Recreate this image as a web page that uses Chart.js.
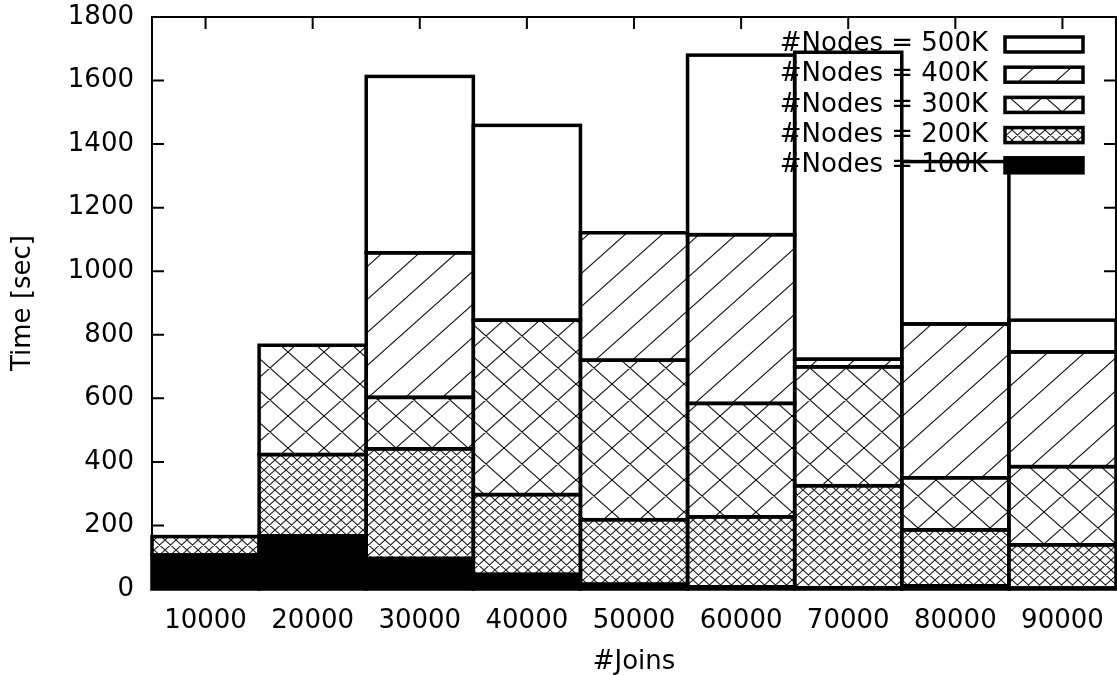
<!DOCTYPE html>
<html>
<head>
<meta charset="utf-8">
<script src="https://cdn.jsdelivr.net/npm/chart.js@4/dist/chart.umd.min.js"></script>
<style>
  body { margin: 0; background: #fff; }
  canvas { display: block; }
</style>
</head>
<body>
<canvas id="joinsChart" width="1117" height="675"></canvas>
<script>
// values (segment heights, sec)
const categories = ["10000", "20000", "30000", "40000", "50000", "60000", "70000", "80000", "90000"];
const nodes100K = [107, 167, 96, 46, 15, 7, 4, 10, 3];
const nodes200K = [58, 256, 345, 251, 203, 220, 321, 176, 136];
const nodes300K = [0, 344, 162, 549, 502, 357, 374, 164, 246];
const nodes400K = [0, 0, 455, 0, 401, 531, 24, 484, 361];
const nodes500K = [0, 0, 555, 613, 0, 565, 966, 511, 100];
const seriesLabels = ["#Nodes = 100K", "#Nodes = 200K", "#Nodes = 300K", "#Nodes = 400K", "#Nodes = 500K"];
const yTicks = [0, 200, 400, 600, 800, 1000, 1200, 1400, 1600, 1800];

const canvas = document.getElementById("joinsChart");
const ctx = canvas.getContext("2d");
const font = { family: "DejaVu Sans", size: 26 };

// gnuplot-like fill patterns
function makePattern(w, h, dirs, color) {
  const c = document.createElement("canvas");
  c.width = w;
  c.height = h;
  const g = c.getContext("2d");
  g.fillStyle = "#fff";
  g.fillRect(0, 0, w, h);
  g.strokeStyle = color;
  g.lineWidth = 1.1;
  g.beginPath();
  for (const ox of [-w, 0, w]) {
    for (const oy of [-h, 0, h]) {
      if (dirs.includes("/")) { g.moveTo(ox, oy + h); g.lineTo(ox + w, oy); }
      if (dirs.includes("\\")) { g.moveTo(ox, oy); g.lineTo(ox + w, oy + h); }
    }
  }
  g.stroke();
  return ctx.createPattern(c, "repeat");
}

const fills = [
  "#000",
  makePattern(11, 10, "/\\", "#222"),
  makePattern(36, 32, "/\\", "#111"),
  makePattern(37, 33, "/", "#111"),
  "#fff",
];
const seriesData = [nodes100K, nodes200K, nodes300K, nodes400K, nodes500K];

// frame + inward ticks on all four sides, behind the bars
const frameTicks = {
  id: "frameTicks",
  beforeDatasetsDraw(chart) {
    const { ctx, chartArea: a, scales } = chart;
    ctx.save();
    ctx.strokeStyle = "#000";
    ctx.lineWidth = 2;
    ctx.strokeRect(a.left, a.top, a.right - a.left, a.bottom - a.top);
    ctx.beginPath();
    yTicks.forEach((v) => {
      const y = scales.y.getPixelForValue(v);
      ctx.moveTo(a.left, y); ctx.lineTo(a.left + 12, y);
      ctx.moveTo(a.right, y); ctx.lineTo(a.right - 12, y);
    });
    categories.forEach((c, i) => {
      const x = scales.x.getPixelForTick(i);
      ctx.moveTo(x, a.top); ctx.lineTo(x, a.top + 12);
      ctx.moveTo(x, a.bottom); ctx.lineTo(x, a.bottom - 12);
    });
    ctx.stroke();
    ctx.restore();
  },
};

// key in the top right, then the thick box outlines
const keyAndOutlines = {
  id: "keyAndOutlines",
  afterDatasetsDraw(chart) {
    const { ctx } = chart;
    ctx.save();
    ctx.font = `${font.size}px "${font.family}"`;
    ctx.fillStyle = "#000";
    ctx.textAlign = "right";
    ctx.textBaseline = "middle";
    for (let k = 0; k < 5; k++) {
      const idx = 4 - k;
      const y = 44.5 + k * 30.2;
      ctx.fillText(seriesLabels[idx], 988, y);
      ctx.fillStyle = fills[idx];
      ctx.fillRect(1005, y - 7.5, 78, 15);
      ctx.fillStyle = "#000";
      ctx.lineWidth = 3.5;
      ctx.strokeRect(1005, y - 7.5, 78, 15);
    }

    ctx.strokeStyle = "#000";
    ctx.lineWidth = 3.5;
    chart.data.datasets.forEach((ds, i) => {
      chart.getDatasetMeta(i).data.forEach((el) => {
        const { x, y, base, width } = el.getProps(["x", "y", "base", "width"], true);
        if (Math.abs(base - y) < 0.5) return;
        ctx.strokeRect(x - width / 2, Math.min(y, base), width, Math.abs(base - y));
      });
    });
    ctx.restore();
  },
};

new Chart(ctx, {
  type: "bar",
  data: {
    labels: categories,
    datasets: seriesData.map((d, i) => ({
      label: seriesLabels[i],
      data: d,
      backgroundColor: fills[i],
      borderWidth: 0,
      barPercentage: 1,
      categoryPercentage: 1,
    })),
  },
  options: {
    responsive: false,
    animation: false,
    layout: { padding: { top: 17, right: 1, left: 0, bottom: 0 } },
    scales: {
      x: {
        stacked: true,
        grid: { display: false, drawTicks: false },
        border: { display: false },
        ticks: { color: "#000", font: font, padding: 17, autoSkip: false, maxRotation: 0 },
        title: { display: true, text: "#Joins", color: "#000", font: font, padding: { top: 0, bottom: -3 } },
        afterFit: (s) => { s.height = 86; s.paddingLeft = 0; s.paddingRight = 0; },
      },
      y: {
        stacked: true,
        min: 0,
        max: 1800,
        grid: { display: false, drawTicks: false },
        border: { display: false },
        ticks: { stepSize: 200, color: "#000", font: font, padding: 18, callback: (v) => String(v) },
        title: { display: true, text: "Time [sec]", color: "#000", font: font, padding: { top: 8, bottom: 0 } },
        afterFit: (s) => { s.width = 152; s.paddingTop = 0; s.paddingBottom = 0; },
      },
    },
    plugins: { legend: { display: false }, tooltip: { enabled: false } },
  },
  plugins: [frameTicks, keyAndOutlines],
});
</script>
</body>
</html>
